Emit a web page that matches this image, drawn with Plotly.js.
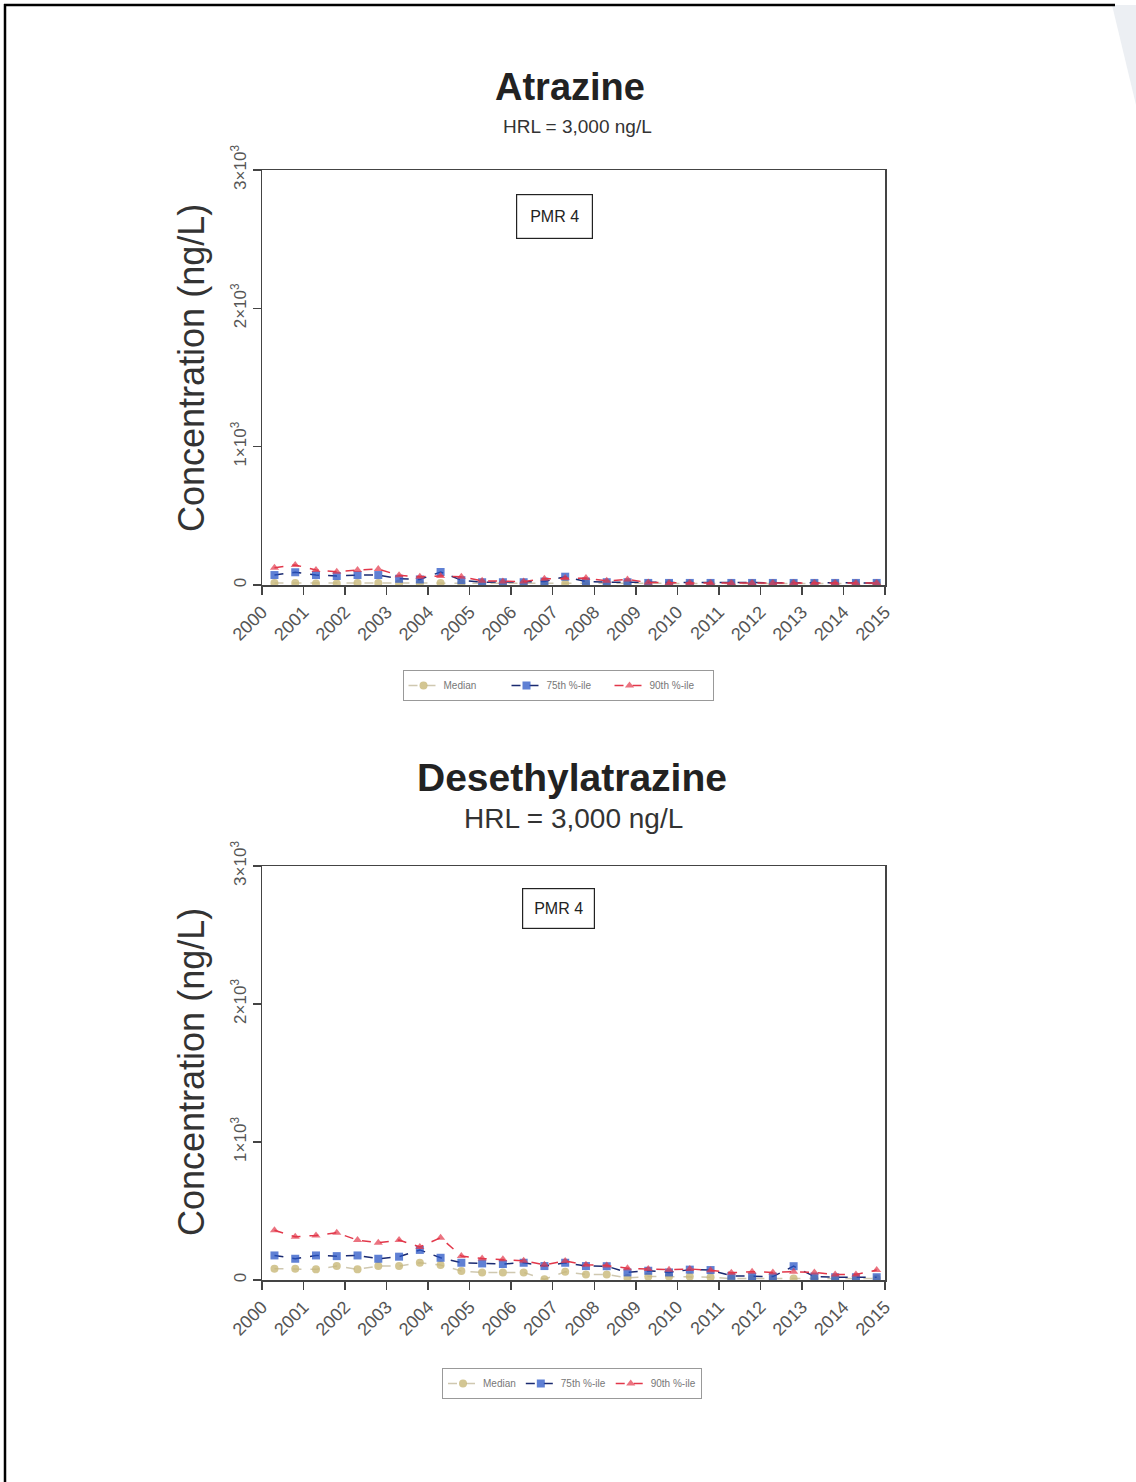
<!DOCTYPE html>
<html>
<head>
<meta charset="utf-8">
<script src="https://cdn.plot.ly/plotly-3.0.1.min.js"></script>
<style>html,body{margin:0;padding:0;background:#fff;}#chart{width:1136px;height:1482px;}</style>
</head>
<body>
<div id="chart"></div>
<script>
// Sampling times (decimal years, roughly semiannual)
const sampleYears = [2000.3, 2000.8, 2001.3, 2001.8, 2002.3, 2002.8, 2003.3, 2003.8, 2004.3, 2004.8,
  2005.3, 2005.8, 2006.3, 2006.8, 2007.3, 2007.8, 2008.3, 2008.8, 2009.3, 2009.8,
  2010.3, 2010.8, 2011.3, 2011.8, 2012.3, 2012.8, 2013.3, 2013.8, 2014.3, 2014.8];

// Atrazine (ng/L)
const atrMedian = [15, 15, 10, 10, 15, 15, 10, 10, 15, 10, 10, 10, 10, 10, 10, 10, 10, 10, 10, 10, 10, 10, 10, 10, 10, 10, 10, 10, 10, 10];
const atrP75    = [72, 92, 72, 65, 72, 72, 45, 40, 94, 35, 20, 20, 20, 25, 60, 25, 20, 20, 15, 15, 15, 15, 15, 15, 15, 15, 15, 15, 15, 15];
const atrP90    = [125, 145, 108, 96, 108, 115, 70, 60, 65, 60, 30, 25, 25, 45, 50, 50, 30, 40, 18, 15, 15, 15, 15, 15, 15, 15, 15, 15, 15, 15];

// Desethylatrazine (ng/L)
const deaMedian = [82, 82, 77, 101, 77, 101, 101, 125, 108, 65, 55, 55, 55, 5, 60, 40, 40, 15, 25, 25, 25, 20, 10, 10, 10, 10, 10, 10, 10, 10];
const deaP75    = [178, 154, 178, 173, 178, 154, 169, 218, 161, 125, 120, 116, 125, 101, 125, 101, 100, 55, 67, 55, 75, 72, 30, 25, 25, 100, 25, 20, 20, 20];
const deaP90    = [360, 313, 323, 342, 289, 270, 289, 240, 306, 174, 155, 150, 140, 110, 138, 110, 105, 85, 80, 75, 80, 70, 53, 60, 55, 60, 55, 40, 40, 72];

const yearTicks = [2000, 2001, 2002, 2003, 2004, 2005, 2006, 2007, 2008, 2009, 2010, 2011, 2012, 2013, 2014, 2015];
const yearLabels = yearTicks.map(String);
const concTicks = [0, 1000, 2000, 3000];
const concLabels = ['0', '1\u00d710<sup>3</sup>', '2\u00d710<sup>3</sup>', '3\u00d710<sup>3</sup>'];
const seriesNames = ['Median', '75th %-ile', '90th %-ile'];

const colMed = '#c8b878', colMedLine = '#cfc8b0';
const colP75 = '#2a56c6', colP75Line = '#1a2a70';
const colP90 = '#e2374a';

function makeTraces(xa, ya, leg, med, p75, p90) {
  return [
    {x: sampleYears, y: med, name: seriesNames[0], xaxis: xa, yaxis: ya, legend: leg, type: 'scatter', mode: 'lines+markers',
     line: {color: colMedLine, dash: 'dash', width: 1.5}, marker: {symbol: 'circle', size: 8, color: colMed, opacity: 0.8}},
    {x: sampleYears, y: p75, name: seriesNames[1], xaxis: xa, yaxis: ya, legend: leg, type: 'scatter', mode: 'lines+markers',
     line: {color: colP75Line, dash: 'dash', width: 1.5}, marker: {symbol: 'square', size: 8, color: colP75, opacity: 0.75}},
    {x: sampleYears, y: p90, name: seriesNames[2], xaxis: xa, yaxis: ya, legend: leg, type: 'scatter', mode: 'lines+markers',
     line: {color: colP90, dash: 'dash', width: 1.5}, marker: {symbol: 'triangle-up', size: 8, color: colP90, opacity: 0.7}}
  ];
}

const data = [].concat(
  makeTraces('x', 'y', 'legend', atrMedian, atrP75, atrP90),
  makeTraces('x2', 'y2', 'legend2', deaMedian, deaP75, deaP90)
);

const W = 1136, H = 1482;
const px = v => v / W;
const py = v => 1 - v / H;
const font = 'Liberation Sans, Arial, sans-serif';

function xax(anchor) {
  return {domain: [px(262), px(885)], range: [2000, 2015], anchor: anchor,
    tickvals: yearTicks, ticktext: yearLabels, tickangle: -45,
    tickfont: {family: font, size: 18, color: '#555'},
    showline: true, mirror: true, linecolor: '#444', linewidth: 1.5,
    ticks: 'outside', ticklen: 8, tickcolor: '#444', tickwidth: 1.5,
    showgrid: false, zeroline: false, fixedrange: true};
}
function yax(top, bottom, anchor) {
  return {domain: [py(bottom), py(top)], range: [0, 3000], anchor: anchor,
    tickvals: concTicks, ticktext: concLabels, tickangle: -90,
    tickfont: {family: font, size: 17, color: '#555'},
    showline: true, mirror: true, linecolor: '#444', linewidth: 1.5,
    ticks: 'outside', ticklen: 8, tickcolor: '#444', tickwidth: 1.5,
    showgrid: false, zeroline: false, fixedrange: true};
}

function legendStyle(cx, top, ew) {
  const l = {orientation: 'h', x: px(cx), xanchor: 'center', y: py(top), yanchor: 'top',
    bordercolor: '#999', borderwidth: 1, bgcolor: '#fff', font: {family: font, size: 10, color: '#777'},
    itemwidth: 30, tracegroupgap: 0};
  if (ew) { l.entrywidth = ew; l.entrywidthmode = 'pixels'; }
  return l;
}

const layout = {
  width: W, height: H, margin: {l: 0, r: 0, t: 0, b: 0},
  paper_bgcolor: '#fff', plot_bgcolor: '#fff', showlegend: true,
  font: {family: font},
  xaxis: xax('y'), yaxis: yax(170, 585, 'x'),
  xaxis2: xax('y2'), yaxis2: yax(866, 1280, 'x2'),
  legend: legendStyle(558, 670, 58),
  legend2: legendStyle(572, 1368, 0),
  annotations: [
    {text: '<b>Atrazine</b>', xref: 'paper', yref: 'paper', x: px(570), y: py(87), xanchor: 'center', yanchor: 'middle', showarrow: false, font: {family: font, size: 38, color: '#222'}},
    {text: 'HRL = 3,000 ng/L', xref: 'paper', yref: 'paper', x: px(577), y: py(126), xanchor: 'center', yanchor: 'middle', showarrow: false, font: {family: font, size: 19, color: '#333'}},
    {text: '<b>Desethylatrazine</b>', xref: 'paper', yref: 'paper', x: px(572), y: py(778), xanchor: 'center', yanchor: 'middle', showarrow: false, font: {family: font, size: 39, color: '#222'}},
    {text: 'HRL = 3,000 ng/L', xref: 'paper', yref: 'paper', x: px(573), y: py(818), xanchor: 'center', yanchor: 'middle', showarrow: false, font: {family: font, size: 28, color: '#333'}},
    {text: 'Concentration (ng/L)', xref: 'paper', yref: 'paper', x: px(191), y: py(368), xanchor: 'center', yanchor: 'middle', textangle: -90, showarrow: false, font: {family: font, size: 36, color: '#333'}},
    {text: 'Concentration (ng/L)', xref: 'paper', yref: 'paper', x: px(191), y: py(1072), xanchor: 'center', yanchor: 'middle', textangle: -90, showarrow: false, font: {family: font, size: 36, color: '#333'}},
    {text: 'PMR 4', xref: 'paper', yref: 'paper', x: px(554), y: py(216), xanchor: 'center', yanchor: 'middle', showarrow: false, font: {family: font, size: 16, color: '#222'}, bordercolor: '#222', borderwidth: 1.2, borderpad: 13, bgcolor: '#fff'},
    {text: 'PMR 4', xref: 'paper', yref: 'paper', x: px(558), y: py(909), xanchor: 'center', yanchor: 'middle', showarrow: false, font: {family: font, size: 16, color: '#222'}, bordercolor: '#222', borderwidth: 1.2, borderpad: 11, bgcolor: '#fff'}
  ],
  shapes: [
    {type: 'line', xref: 'paper', yref: 'paper', x0: px(4), x1: px(1115), y0: py(5), y1: py(5), line: {color: '#000', width: 2.5}},
    {type: 'line', xref: 'paper', yref: 'paper', x0: px(5), x1: px(5), y0: py(4), y1: 0, line: {color: '#000', width: 2.5}},
    {type: 'path', xref: 'paper', yref: 'paper', path: 'M ' + px(1112) + ' ' + py(5) + ' L ' + px(1136) + ' ' + py(5) + ' L ' + px(1136) + ' ' + py(105) + ' Z', fillcolor: '#eceff3', line: {width: 0}, layer: 'below'}
  ]
};

Plotly.newPlot('chart', data, layout, {displayModeBar: false, staticPlot: true});
</script>
</body>
</html>
